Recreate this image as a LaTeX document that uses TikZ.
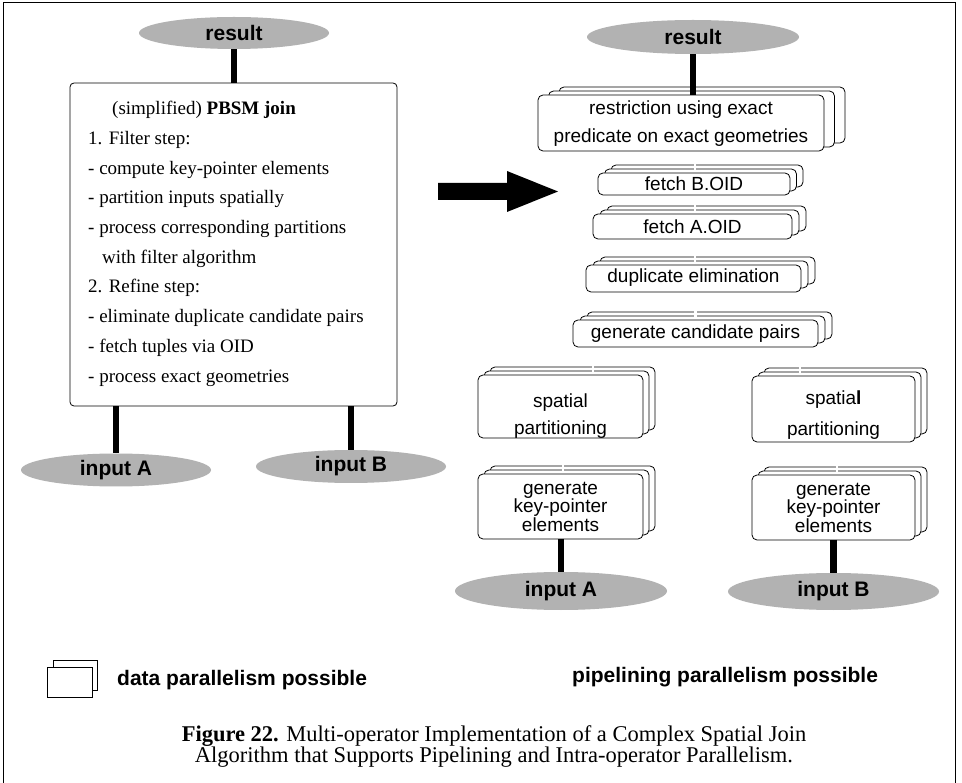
\documentclass[tikz,border=0pt]{standalone}
\usepackage{fontspec}
\setmainfont{Liberation Serif}
\setsansfont{Liberation Sans}
\usetikzlibrary{shapes.geometric}

% stacked operator box: three layers, the front one is a named node
% #1 name, #2 left, #3 top, #4 right, #5 bottom, #6 horizontal layer offset
\newcommand\opbox[6]{%
  \foreach \k in {2,1}
    \draw[oplayer] ({#2+\k*#6},{#3-\k*4}) rectangle ({#4+\k*#6},{#5-\k*4});
  \node[opfront, minimum width={#4-#2}, minimum height={#5-#3}] (#1)
    at ({(#2+#4)/2},{(#3+#5)/2}) {};
}

\begin{document}
\begin{tikzpicture}[x=1pt,y=-1pt,
  conn/.style={line width=6.5pt},
  blob/.style={ellipse, fill=black!30, inner sep=0pt,
    font=\sffamily\bfseries\fontsize{21}{25}\selectfont},
  opfront/.style={draw, fill=white, rounded corners=5pt, line width=0.8pt,
    inner sep=0pt, outer sep=0pt},
  oplayer/.style={draw, fill=white, rounded corners=5pt, line width=0.8pt},
  optext/.style={align=center, inner sep=0pt,
    font=\sffamily\fontsize{19}{#1}\selectfont},
  optext/.default=27,
  gap/.style={draw=white, line width=2.6pt},
  plan/.style={anchor=base west, inner sep=0pt, font=\fontsize{19}{23}\selectfont},
  legend/.style={anchor=base west, inner sep=0pt,
    font=\sffamily\bfseries\fontsize{21}{25}\selectfont},
  caption/.style={anchor=base, inner sep=0pt, font=\fontsize{22.5}{18}\selectfont},
  legbox/.style={draw, fill=white, line width=1pt, inner sep=0pt, outer sep=0pt},
]
\useasboundingbox (0,0) rectangle (962,783);
\fill[white] (0,0) rectangle (962,783);

% frame
\draw[line width=1pt] (3,790) -- (3,3) -- (955,3) -- (955,790);

% ---------------- single-operator plan ----------------
\node[blob, minimum width=190pt, minimum height=32pt] (resL) at (234,33) {result};
\node[draw, rounded corners=4pt, line width=0.8pt, minimum width=327pt,
  minimum height=323pt, inner sep=0pt] (pbsm) at (233.5,244.5) {};
\node[blob, minimum width=190pt, minimum height=33pt] (inA) at (116,470) {input A};
\node[blob, minimum width=190pt, minimum height=33pt] (inB) at (351,466.5) {input B};

\node[plan] (p0) at (112,115) {(simplified) \textbf{PBSM join}};
\node[plan] (p1) at (88,145) {1. Filter step:};
\node[plan] (p2) at (88,175) {- compute key-pointer elements};
\node[plan] (p3) at (88,204) {- partition inputs spatially};
\node[plan] (p4) at (88,234) {- process corresponding partitions};
\node[plan] (p5) at (102,264) {with filter algorithm};
\node[plan] (p6) at (88,293) {2. Refine step:};
\node[plan] (p7) at (88,323) {- eliminate duplicate candidate pairs};
\node[plan] (p8) at (88,353) {- fetch tuples via OID};
\node[plan] (p9) at (88,383) {- process exact geometries};

\draw[conn] (resL.south) -- (resL.south |- pbsm.north);
\draw[conn] (inA.north |- pbsm.south) -- (inA.north);
\draw[conn] (inB.north |- pbsm.south) -- (inB.north);

% transformation arrow
\fill (438,183) -- (507,183) -- (507,171) -- (558,191.5) -- (507,212)
  -- (507,200) -- (438,200) -- cycle;

% ---------------- multi-operator plan ----------------
\node[blob, minimum width=212pt, minimum height=34pt] (resR) at (693,37) {result};

\opbox{restr}{538}{95}{824}{151}{10.5}
\node[optext=28] (restrT) at ([yshift=-1pt]restr.center)
  {restriction using exact\\predicate on exact geometries};

\opbox{fetchB}{598}{173}{790}{195}{6.5}
\node[optext] (fetchBT) at (fetchB.center) {fetch B.OID};

\opbox{fetchA}{593}{214}{792}{239}{7}
\node[optext] (fetchAT) at (fetchA.center) {fetch A.OID};

\opbox{dupl}{586}{265}{801}{292}{7}
\node[optext] (duplT) at ([yshift=1pt]dupl.center) {duplicate elimination};

\opbox{cand}{573}{320}{818}{347}{7}
\node[optext] (candT) at (cand.center) {generate candidate pairs};

\opbox{partL}{478}{375}{643}{438}{6}
\node[optext=27] (partLT) at ([yshift=-10pt]partL.center) {spatial\\partitioning};

\opbox{partR}{752}{376}{915}{442}{6}
\node[optext=31] (partRT) at ([yshift=-6.5pt]partR.center) {spatia\textbf{l}\\partitioning};

\opbox{keyL}{478}{474}{643}{539}{6}
\node[optext=18.5] (keyLT) at (keyL.center) {generate\\key-pointer\\elements};

\opbox{keyR}{752}{475}{915}{540}{6}
\node[optext=18.5] (keyRT) at (keyR.center) {generate\\key-pointer\\elements};

\node[blob, minimum width=212pt, minimum height=38pt] (inAR) at (561,591) {input A};
\node[blob, minimum width=211pt, minimum height=37pt] (inBR) at (833.5,591.5) {input B};

% pipeline links through the stacked layers
\draw[gap] ([xshift=1pt,yshift=1.2pt]fetchB.north) -- ([xshift=1pt,yshift=10pt]fetchB.north);
\draw[gap] ([xshift=2.5pt,yshift=1.2pt]fetchA.north) -- ([xshift=2.5pt,yshift=10pt]fetchA.north);
\draw[gap] ([xshift=1.5pt,yshift=1.2pt]dupl.north) -- ([xshift=1.5pt,yshift=10pt]dupl.north);
\draw[gap] ([yshift=1.2pt]cand.north) -- ([yshift=10pt]cand.north);
\draw[gap] ([xshift=32.5pt,yshift=1.2pt]partL.north) -- ([xshift=32.5pt,yshift=10pt]partL.north);
\draw[gap] ([xshift=2.5pt,yshift=1.2pt]keyL.north) -- ([xshift=2.5pt,yshift=10pt]keyL.north);
\draw[gap] ([xshift=-33.5pt,yshift=1.2pt]partR.north) -- ([xshift=-33.5pt,yshift=10pt]partR.north);
\draw[gap] ([xshift=3.5pt,yshift=1.2pt]keyR.north) -- ([xshift=3.5pt,yshift=10pt]keyR.north);

\draw[conn] (resR.south) -- (resR.south |- restr.north);
\draw[conn] (inAR.north |- keyL.south) -- (inAR.north);
\draw[conn] (inBR.north |- keyR.south) -- (inBR.north);

% ---------------- legend ----------------
\node[legbox, minimum width=44pt, minimum height=30pt] (legBack) at (75,675) {};
\node[legbox, minimum width=45pt, minimum height=30pt] (legFront) at (69.5,682) {};
\node[legend] (legData) at (117,685) {data parallelism possible};
\node[legend] (legPipe) at (572,682) {pipelining parallelism possible};

% ---------------- caption ----------------
\node[caption] (cap1) at (494,741)
  {\textbf{Figure 22.} Multi-operator Implementation of a Complex Spatial Join};
\node[caption] (cap2) at (494,762)
  {Algorithm that Supports Pipelining and Intra-operator Parallelism.};
\end{tikzpicture}
\end{document}
